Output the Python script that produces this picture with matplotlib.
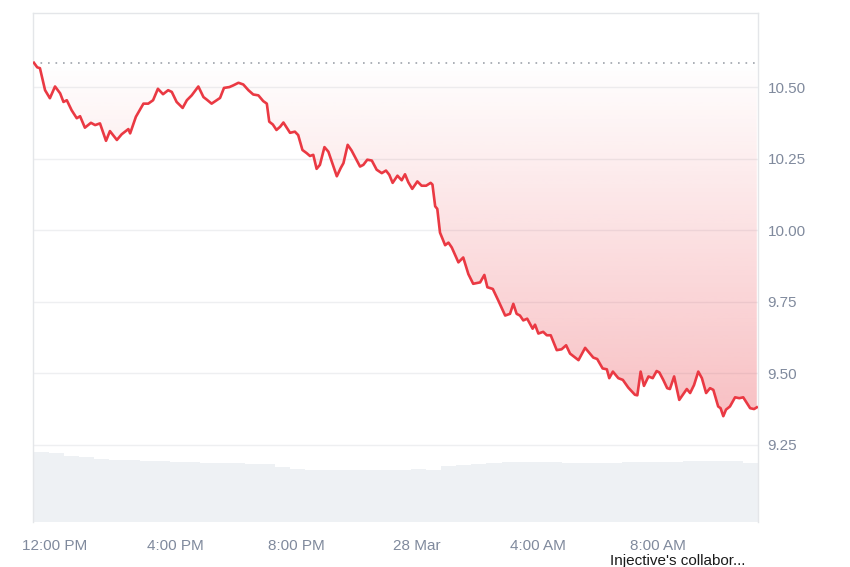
import numpy as np
import matplotlib
matplotlib.use("Agg")
import matplotlib.pyplot as plt
from matplotlib.patches import Polygon

plt.rcParams['font.family'] = ['Liberation Sans', 'DejaVu Sans']

# hours after 12:00 PM (27 Mar) and price in USD
hours = [-0.70, -0.59, -0.50, -0.33, -0.17, 0.00, 0.17, 0.28, 0.39, 0.55,
         0.72, 0.83, 0.99, 1.19, 1.33, 1.49, 1.69, 1.82, 2.05, 2.21,
         2.43, 2.49, 2.68, 2.93, 3.09, 3.25, 3.41, 3.58, 3.75, 3.87,
         4.03, 4.23, 4.37, 4.53, 4.75, 4.92, 5.03, 5.19, 5.36, 5.47,
         5.60, 5.78, 5.91, 6.08, 6.24, 6.41, 6.57, 6.74, 6.90, 7.02,
         7.10, 7.22, 7.34, 7.46, 7.57, 7.79, 7.95, 8.06, 8.20, 8.34,
         8.45, 8.56, 8.67, 8.78, 8.93, 9.06, 9.34, 9.47, 9.56, 9.70,
         9.83, 10.11, 10.22, 10.35, 10.50, 10.66, 10.83, 10.97, 11.08, 11.19,
         11.35, 11.49, 11.60, 11.71, 11.84, 12.01, 12.15, 12.30, 12.45, 12.51,
         12.60, 12.67, 12.76, 12.93, 13.04, 13.15, 13.37, 13.53, 13.70, 13.86,
         14.09, 14.23, 14.33, 14.51, 14.69, 14.92, 15.08, 15.19, 15.30, 15.41,
         15.52, 15.65, 15.83, 15.91, 16.02, 16.18, 16.30, 16.43, 16.63, 16.79,
         16.94, 17.07, 17.18, 17.35, 17.57, 17.73, 17.84, 17.97, 18.15, 18.29,
         18.37, 18.49, 18.67, 18.82, 19.00, 19.22, 19.30, 19.41, 19.52, 19.67,
         19.81, 19.94, 20.03, 20.16, 20.29, 20.38, 20.52, 20.69, 20.81, 20.94,
         21.05, 21.18, 21.32, 21.44, 21.58, 21.71, 21.82, 21.98, 22.06, 22.15,
         22.24, 22.37, 22.54, 22.68, 22.81, 23.04, 23.17, 23.26]
price = [10.586, 10.570, 10.567, 10.490, 10.462, 10.503, 10.479, 10.449, 10.455, 10.420,
         10.392, 10.399, 10.359, 10.376, 10.368, 10.374, 10.313, 10.347, 10.316, 10.336,
         10.354, 10.339, 10.397, 10.443, 10.443, 10.455, 10.495, 10.476, 10.490, 10.484,
         10.449, 10.428, 10.455, 10.472, 10.503, 10.466, 10.457, 10.443, 10.455, 10.463,
         10.498, 10.501, 10.507, 10.516, 10.510, 10.490, 10.475, 10.472, 10.452, 10.443,
         10.380, 10.370, 10.351, 10.362, 10.377, 10.341, 10.345, 10.333, 10.281, 10.270,
         10.260, 10.264, 10.215, 10.229, 10.291, 10.275, 10.189, 10.218, 10.235, 10.299,
         10.279, 10.223, 10.229, 10.247, 10.244, 10.212, 10.200, 10.209, 10.194, 10.166,
         10.191, 10.175, 10.196, 10.168, 10.145, 10.171, 10.156, 10.156, 10.166, 10.160,
         10.084, 10.075, 9.992, 9.948, 9.957, 9.940, 9.888, 9.905, 9.847, 9.813,
         9.818, 9.844, 9.801, 9.795, 9.755, 9.702, 9.708, 9.743, 9.708, 9.702,
         9.685, 9.691, 9.656, 9.670, 9.639, 9.645, 9.633, 9.633, 9.581, 9.584,
         9.598, 9.569, 9.560, 9.546, 9.589, 9.569, 9.555, 9.550, 9.517, 9.514,
         9.483, 9.506, 9.483, 9.477, 9.450, 9.425, 9.423, 9.506, 9.456, 9.489,
         9.483, 9.508, 9.503, 9.477, 9.448, 9.445, 9.489, 9.407, 9.425, 9.445,
         9.431, 9.459, 9.506, 9.483, 9.431, 9.448, 9.442, 9.384, 9.378, 9.350,
         9.373, 9.384, 9.416, 9.413, 9.416, 9.378, 9.375, 9.381]

# half-hour volume bars (arbitrary units), starting at the left edge
vol_start = -0.70
volume = [70, 69, 66.5, 65, 63, 62.5, 62, 61.5, 61, 60.5,
          60, 59.5, 58.8, 58.6, 58.5, 58.5, 55, 53.5, 52.3, 52.3,
          52.3, 52.3, 52.3, 52.3, 52.5, 53, 52, 56, 57, 58.3,
          59.3, 60, 60.5, 60.5, 59.8, 59.3, 59, 58.8, 59.3, 59.7,
          59.8, 60, 60.4, 60.7, 61, 60.6, 60.8, 59.5]

xtick_pos = [0, 4, 8, 12, 16, 20]
xtick_labels = ["12:00 PM", "4:00 PM", "8:00 PM", "28 Mar", "4:00 AM", "8:00 AM"]
ytick_pos = [9.25, 9.50, 9.75, 10.00, 10.25, 10.50]

red = '#ea3943'
grey_txt = '#808a9d'

fig = plt.figure(figsize=(8.5, 5.67), dpi=100)
ax = fig.add_axes([33 / 850, 1 - 522 / 567, 725 / 850, 509 / 567])
axv = ax.twinx()
ax.set_zorder(axv.get_zorder() + 1)
ax.patch.set_visible(False)

# volume in the background
vol_x = vol_start + 0.5 * np.arange(len(volume))
axv.bar(vol_x, volume, width=0.5, align='edge', color='#eef1f4', linewidth=0)
axv.set_ylim(0, max(volume) / 0.1375)
axv.set_yticks([])
for s in axv.spines.values():
    s.set_visible(False)

ref = price[0]
ax.axhline(ref, color='#9ea3ab', lw=1.2, ls=(0, (1, 3.5)), zorder=2)

# gradient fill between the reference price and the line
lo = min(price)
grad = np.zeros((256, 1, 4))
rgb = matplotlib.colors.to_rgb(red)
grad[:, 0, 0] = rgb[0]
grad[:, 0, 1] = rgb[1]
grad[:, 0, 2] = rgb[2]
grad[:, 0, 3] = np.linspace(0.32, 0.0, 256)
img = ax.imshow(grad, aspect='auto', origin='lower',
                extent=(hours[0], hours[-1], lo, ref), zorder=1)
verts = list(zip(hours, price)) + [(hours[-1], ref), (hours[0], ref)]
poly = Polygon(verts, closed=True, facecolor='none', edgecolor='none')
ax.add_patch(poly)
img.set_clip_path(poly)

ax.plot(hours, price, color=red, lw=1.9, zorder=3, solid_joinstyle='round')

ax.set_xlim(-0.73, 23.30)
ax.set_ylim(8.98, 10.76)

ax.yaxis.tick_right()
ax.set_yticks(ytick_pos)
ax.set_yticklabels(["%.2f" % v for v in ytick_pos])
ax.set_xticks(xtick_pos)
ax.set_xticklabels(xtick_labels)
ax.tick_params(axis='both', length=0, labelsize=11, colors=grey_txt)
ax.tick_params(axis='y', pad=7)
ax.tick_params(axis='x', pad=12)
ax.grid(axis='y', color='#eeeff1', lw=1)
ax.set_axisbelow(True)

for side in ['top', 'left', 'right']:
    ax.spines[side].set_color('#e4e6e9')
    ax.spines[side].set_linewidth(1)
ax.spines['bottom'].set_visible(False)

fig.text(678 / 850, 1 - 561 / 567, "Injective's collabor...", ha='center',
         va='center', fontsize=11, color='#1a1a1a')

fig.savefig('out.png', dpi=100)
